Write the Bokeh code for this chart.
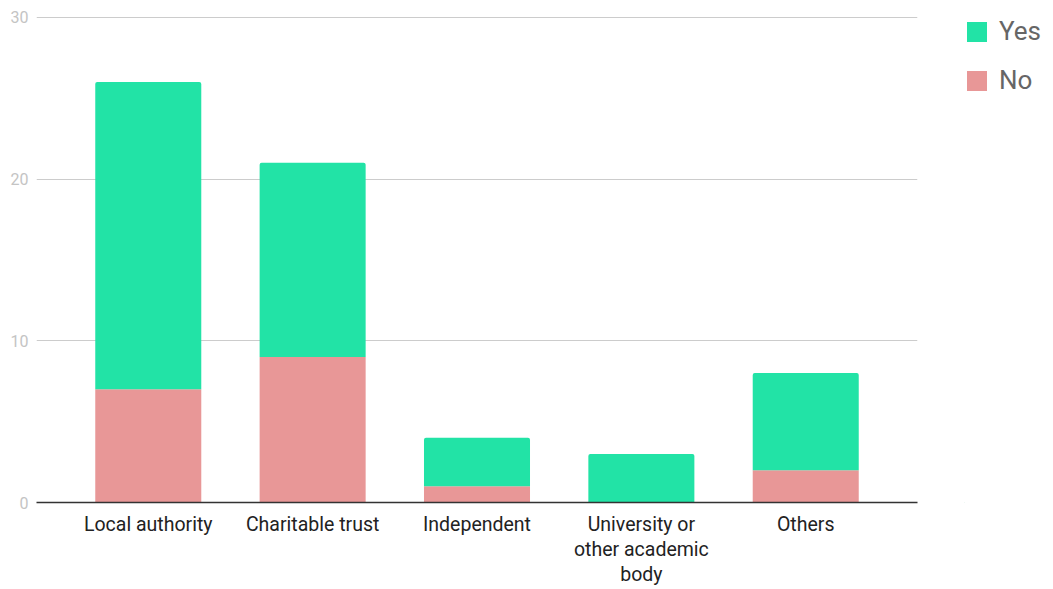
from bokeh.plotting import figure
from bokeh.layouts import row
from bokeh.models import ColumnDataSource, Range1d, FixedTicker, Legend, LegendItem
from bokeh.embed import file_html
from bokeh.resources import INLINE

# Organisation types and yes/no response counts
categories = ["Local authority", "Charitable trust", "Independent",
              "University or\nother academic\nbody", "Others"]
no_counts = [7, 9, 1, 0, 2]
yes_counts = [19, 12, 3, 3, 6]
y_ticks = [0, 10, 20, 30]
series_names = ["Yes", "No"]

GREEN = "#22e3a6"
SALMON = "#e89797"
FONT = "Roboto"

xs = list(range(len(categories)))
tops = [n + y for n, y in zip(no_counts, yes_counts)]
src = ColumnDataSource(dict(x=xs, no=no_counts, yes=yes_counts, top=tops))

p = figure(width=964, height=589, output_backend="svg", toolbar_location=None,
           x_range=Range1d(-0.68, len(categories) - 1 + 0.68),
           y_range=Range1d(0, 30.05),
           min_border_left=36, min_border_right=47,
           min_border_top=16, min_border_bottom=85)
p.outline_line_color = None
p.background_fill_color = "white"
p.border_fill_color = "white"

bar_w = 0.645
p.vbar(x="x", bottom=0, top="no", width=bar_w, source=src,
       fill_color=SALMON, line_color=None)
p.vbar(x="x", bottom="no", top="top", width=bar_w, source=src,
       fill_color=GREEN, line_color=None, border_radius=(2, 2, 0, 0))

# y axis: light labels, no line or ticks
p.yaxis.ticker = FixedTicker(ticks=y_ticks)
p.yaxis.axis_line_color = None
p.yaxis.major_tick_line_color = None
p.yaxis.major_tick_out = 0
p.yaxis.minor_tick_line_color = None
p.yaxis.minor_tick_out = 0
p.yaxis.major_label_text_color = "#c4c4c4"
p.yaxis.major_label_text_font = FONT
p.yaxis.major_label_text_font_size = "16px"
p.yaxis.major_label_standoff = 8

# x axis: category labels under each bar
p.xaxis.ticker = FixedTicker(ticks=xs)
p.xaxis.major_label_overrides = {i: c for i, c in enumerate(categories)}
p.xaxis.axis_line_color = "#333333"
p.xaxis.axis_line_width = 1.5
p.xaxis.major_tick_line_color = None
p.xaxis.major_tick_out = 0
p.xaxis.minor_tick_line_color = None
p.xaxis.minor_tick_out = 0
p.xaxis.major_label_text_color = "#222222"
p.xaxis.major_label_text_font = FONT
p.xaxis.major_label_text_font_size = "19.5px"
p.xaxis.major_label_text_line_height = 1.1
p.xaxis.major_label_standoff = 10

p.xgrid.grid_line_color = None
p.ygrid.ticker = FixedTicker(ticks=[10, 20, 30])
p.ygrid.grid_line_color = "#cccccc"
p.ygrid.grid_line_width = 1

# Legend lives in a narrow side canvas to the right of the chart
lf = figure(width=89, height=589, output_backend="svg", toolbar_location=None,
            x_range=Range1d(0, 1), y_range=Range1d(0, 1),
            min_border=0, outline_line_color=None)
lf.title.visible = False
lf.axis.visible = False
lf.grid.visible = False
key_src = ColumnDataSource(dict(x=[-5], top=[-5]))
k_yes = lf.vbar(x="x", top="top", width=0.1, source=key_src,
                fill_color=GREEN, line_color=None)
k_no = lf.vbar(x="x", top="top", width=0.1, source=key_src,
               fill_color=SALMON, line_color=None)

legend = Legend(items=[LegendItem(label=series_names[0], renderers=[k_yes]),
                       LegendItem(label=series_names[1], renderers=[k_no])],
                location="top_left", orientation="vertical",
                label_text_font=FONT, label_text_font_size="26px",
                label_text_color="#666666",
                glyph_width=25, glyph_height=25, label_height=20,
                spacing=19, padding=7, margin=0, label_standoff=10,
                border_line_color=None, background_fill_alpha=0)
lf.add_layout(legend, "center")

layout = row(p, lf)
open("out.html", "w").write(file_html(layout, INLINE))
